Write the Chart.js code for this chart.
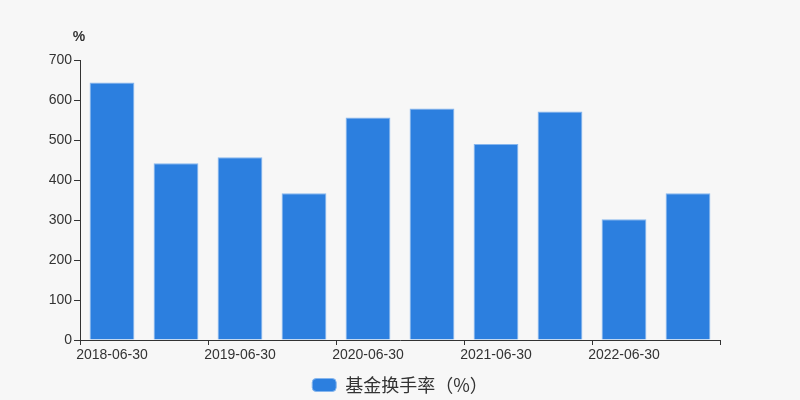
<!DOCTYPE html>
<html>
<head>
<meta charset="utf-8">
<script src="https://cdn.jsdelivr.net/npm/chart.js@4"></script>
<style>
    html, body { margin: 0; padding: 0; background: #f7f7f7; }
    #wrap { width: 800px; height: 400px; }
</style>
</head>
<body>
<div id="wrap"><canvas id="turnoverChart" width="800" height="400"></canvas></div>
<script>
// report dates and fund turnover (%)
const periods = ['2018-06-30', '2018-12-31', '2019-06-30', '2019-12-31', '2020-06-30',
                 '2020-12-31', '2021-06-30', '2021-12-31', '2022-06-30', '2022-12-31'];
const turnover = [644, 442, 457, 367, 556, 579, 490, 571, 302, 367];
const yTicks = [0, 100, 200, 300, 400, 500, 600, 700];
const seriesName = '基金换手率（%）';
const unitLabel = '%';

const FONT = '"Liberation Sans", Arial, sans-serif';
const CJK_FONT = '"Noto Sans CJK SC", sans-serif';

// draws the unit text above the y axis
const unitPlugin = {
    id: 'unitLabel',
    afterDraw(chart) {
        const y = chart.scales.y;
        const ctx = chart.ctx;
        ctx.save();
        ctx.font = 'bold 14px ' + FONT;
        ctx.fillStyle = '#333';
        ctx.textAlign = 'center';
        ctx.textBaseline = 'middle';
        ctx.fillText(unitLabel, y.right - 1, y.top - 23);
        ctx.restore();
    }
};

new Chart(document.getElementById('turnoverChart').getContext('2d'), {
    type: 'bar',
    data: {
        labels: periods,
        datasets: [{
            label: seriesName,
            data: turnover,
            backgroundColor: '#2c7fdf',
            borderColor: '#86b6ee',
            borderWidth: 1,
            barPercentage: 0.7,
            categoryPercentage: 1.0
        }]
    },
    options: {
        responsive: false,
        animation: false,
        // negative bottom padding pushes the legend a little lower
        layout: { padding: { top: 60, right: 0, left: 0, bottom: -4 } },
        scales: {
            x: {
                offset: true,
                grid: {
                    offset: true,
                    drawOnChartArea: false,
                    tickLength: 5,
                    tickColor: c => (c.index === undefined || c.index % 2 === 0) ? '#333' : 'transparent'
                },
                border: { color: '#333', width: 1 },
                ticks: {
                    autoSkip: false,
                    maxRotation: 0,
                    color: '#333',
                    padding: 2,
                    font: { size: 14, family: FONT },
                    callback: function (v, i) { return i % 2 === 0 ? this.getLabelForValue(v) : ''; }
                },
                afterFit: s => { s.height = 30; }
            },
            y: {
                min: 0,
                max: 700,
                afterBuildTicks: s => { s.ticks = yTicks.map(v => ({ value: v })); },
                grid: { drawOnChartArea: false, tickLength: 6, tickColor: '#333' },
                border: { color: '#333', width: 1 },
                ticks: {
                    color: '#333',
                    padding: 2,
                    font: { size: 14, family: FONT }
                },
                afterFit: s => { s.width = 80; }
            },
            // empty right-hand spacer so the legend stays centred on the canvas
            spacer: {
                type: 'linear',
                position: 'right',
                grid: { display: false },
                border: { display: false },
                ticks: { display: false },
                afterFit: s => { s.width = 80; }
            }
        },
        plugins: {
            legend: {
                position: 'bottom',
                labels: {
                    boxWidth: 24,
                    boxHeight: 13,
                    useBorderRadius: true,
                    borderRadius: 4,
                    color: '#333',
                    padding: 6,
                    font: { size: 18, family: CJK_FONT }
                }
            },
            tooltip: { enabled: false }
        }
    },
    plugins: [unitPlugin]
});
</script>
</body>
</html>
